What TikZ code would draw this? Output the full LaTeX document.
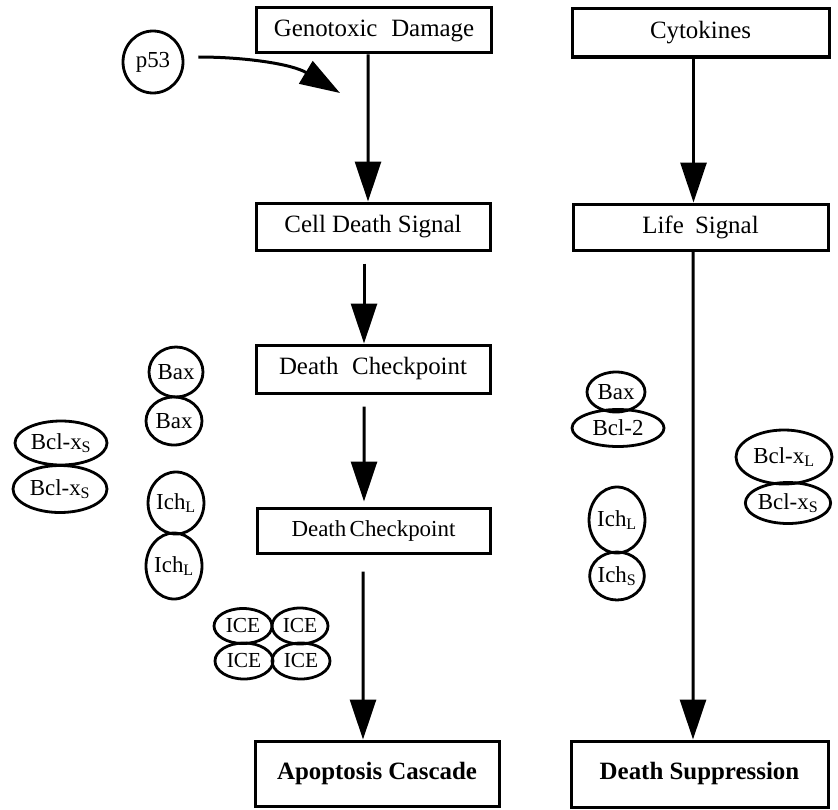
\documentclass[tikz,border=0pt]{standalone}
\usepackage{fontspec}
\setmainfont{Liberation Serif}
\usetikzlibrary{arrows.meta,shapes.geometric}
\begin{document}
\begin{tikzpicture}[x=1bp,y=1bp,
  box/.style={draw, line width=3bp, inner sep=0pt, font=\fontsize{25}{30}\selectfont},
  bbox/.style={box, font=\fontsize{25}{30}\selectfont\bfseries},
  mol/.style={ellipse, draw, line width=2.8bp, inner sep=0pt, font=\fontsize{23}{27}\selectfont},
  ice/.style={mol, font=\fontsize{21.5}{25}\selectfont},
  arr/.style={line width=3bp, -{Triangle[length=40bp,width=26bp]}}]
\useasboundingbox (0,0) rectangle (838,-810);

% boxes
\node[box, minimum width=235bp, minimum height=45bp] (gen) at (374,-30.5) {Genotoxic\hspace{0.3em} Damage};
\node[box, minimum width=257bp, minimum height=48bp] (cyt) at (700.5,-33) {Cytokines};
\node[box, minimum width=234bp, minimum height=47bp] (cds) at (373,-226.5) {Cell Death Signal};
\node[box, minimum width=255bp, minimum height=46bp] (life) at (700.5,-227) {Life\hspace{0.2em} Signal};
\node[box, minimum width=234bp, minimum height=48bp] (dc1) at (373,-369) {Death\hspace{0.3em} Checkpoint};
\node[box, minimum width=233bp, minimum height=45bp, font=\fontsize{23}{28}\selectfont] (dc2) at (373.5,-530.5) {Death\hspace{-0.1em} Checkpoint};
\node[bbox, minimum width=244bp, minimum height=65bp] (apo) at (377,-773.5) {Apoptosis Cascade};
\node[bbox, minimum width=257bp, minimum height=66bp] (sup) at (699.5,-774) {Death Suppression};

% p53
\node[mol, minimum width=60bp, minimum height=62bp] (p53) at (153,-62) {p53};
\coordinate (p53tip) at (340,-93);

% left molecules
\node[mol, minimum width=54bp, minimum height=50bp] (baxa) at (176,-372) {Bax};
\node[mol, minimum width=56bp, minimum height=48bp] (baxb) at (174,-421) {Bax};
\node[mol, minimum width=92bp, minimum height=44bp] (bxsa) at (61,-443) {Bcl-x\textsubscript{S}};
\node[mol, minimum width=94bp, minimum height=47bp] (bxsb) at (60,-489) {Bcl-x\textsubscript{S}};
\node[mol, minimum width=55bp, minimum height=62bp] (icha) at (176,-503) {Ich\textsubscript{L}};
\node[mol, minimum width=56bp, minimum height=66bp] (ichb) at (174,-566) {Ich\textsubscript{L}};
\node[ice, minimum width=58bp, minimum height=35bp] (icea) at (243,-626) {ICE};
\node[ice, minimum width=56bp, minimum height=36bp] (iceb) at (300,-626) {ICE};
\node[ice, minimum width=58bp, minimum height=36bp] (icec) at (244,-661) {ICE};
\node[ice, minimum width=58bp, minimum height=36bp] (iced) at (301,-661) {ICE};

% right molecules
\node[mol, minimum width=58bp, minimum height=40bp] (baxr) at (616,-392) {Bax};
\node[mol, minimum width=92bp, minimum height=37bp] (bcl2) at (618,-428) {Bcl-2};
\node[mol, minimum width=96bp, minimum height=54bp] (bxl) at (784,-457) {Bcl-x\textsubscript{L}};
\node[mol, minimum width=80bp, minimum height=41bp] (bxsr) at (788,-503) {Bcl-x\textsubscript{S}};
\node[mol, minimum width=52bp, minimum height=66bp] (ichlr) at (617,-520) {Ich\textsubscript{L}};
\node[mol, minimum width=54bp, minimum height=48bp] (ichsr) at (617,-576) {Ich\textsubscript{S}};

% arrows
\draw[arr] ([xshift=14bp,yshift=5bp]p53.east) .. controls (245,-57) and (292,-64) .. (p53tip);
\draw[arr] ([xshift=-6bp]gen.south) -- ([xshift=-5bp]cds.north);
\draw[arr] ([xshift=-7bp]cyt.south) -- ([xshift=-7bp]life.north);
\draw[arr, shorten <=12bp] ([xshift=-9bp]cds.south) -- ([xshift=-9bp]dc1.north);
\draw[arr, shorten <=12bp, shorten >=5bp] ([xshift=-9bp]dc1.south) -- ([xshift=-9.5bp]dc2.north);
\draw[arr, shorten <=17bp] ([xshift=-10.5bp]dc2.south) -- ([xshift=-14bp]apo.north);
\draw[arr] ([xshift=-7.5bp]life.south) -- ([xshift=-6.5bp]sup.north);
\end{tikzpicture}
\end{document}
